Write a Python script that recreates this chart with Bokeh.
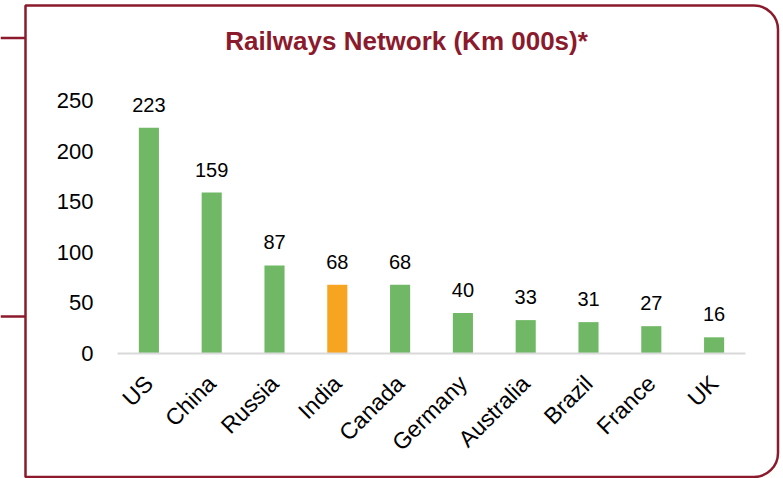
import math
from bokeh.plotting import figure
from bokeh.models import ColumnDataSource, Range1d, FixedTicker, LabelSet, Label, BoxAnnotation
from bokeh.core.properties import value
from bokeh.embed import file_html
from bokeh.resources import INLINE

# ---- data ----
countries = ["US", "China", "Russia", "India", "Canada", "Germany", "Australia", "Brazil", "France", "UK"]
network_km000 = [223, 159, 87, 68, 68, 40, 33, 31, 27, 16]
highlight = "India"
y_ticks = [0, 50, 100, 150, 200, 250]
title_text = "Railways Network (Km 000s)*"

# ---- styles / layout ----
GREEN = "#71B866"
ORANGE = "#F7A520"
DARK_RED = "#8C1A2D"
FONT = "Liberation Sans"

W, H = 783, 478
PLOT_L, PLOT_R = 117, 745      # canvas x of the category band edges
ZERO_Y, TOP_Y = 353, 100       # canvas y of value 0 and value 250

n = len(countries)
px_per_cat = (PLOT_R - PLOT_L) / n
px_per_val = (ZERO_Y - TOP_Y) / y_ticks[-1]
x_start = -0.5 - PLOT_L / px_per_cat
x_end = x_start + W / px_per_cat
y_start = -(H - ZERO_Y) / px_per_val
y_end = ZERO_Y / px_per_val

xpos = list(range(n))
bar_colors = [ORANGE if c == highlight else GREEN for c in countries]
src = ColumnDataSource(dict(x=xpos, top=network_km000, color=bar_colors,
                            label=[str(v) for v in network_km000]))

p = figure(x_range=Range1d(x_start, x_end), y_range=Range1d(y_start, y_end),
           width=W, height=H, output_backend="svg", toolbar_location=None,
           min_border_left=0, min_border_right=0, min_border_top=0, min_border_bottom=0)
p.outline_line_color = None
p.xgrid.visible = False
p.ygrid.visible = False
p.background_fill_color = "white"
p.border_fill_color = "white"

p.vbar(x="x", top="top", width=0.32, color="color", line_color=None, source=src)

p.add_layout(LabelSet(x="x", y="top", text="label", source=src, y_offset=16,
                      text_align="center", text_baseline="alphabetic",
                      text_font=value(FONT), text_font_size=value("20px"), text_color="#000000"))

# y axis (drawn at the left edge of the first category band)
p.yaxis.fixed_location = -0.5
p.yaxis.ticker = FixedTicker(ticks=y_ticks)
p.yaxis.axis_line_color = None
p.yaxis.major_tick_line_color = None
p.yaxis.minor_tick_line_color = None
p.yaxis.major_tick_out = 0
p.yaxis.major_tick_in = 0
p.yaxis.major_label_standoff = 24
p.yaxis.major_label_text_font = FONT
p.yaxis.major_label_text_font_size = "22px"
p.yaxis.major_label_text_color = "#000000"

# x axis (category axis at value 0)
p.xaxis.fixed_location = 0
p.xaxis.bounds = (-0.5, n - 0.5)
p.xaxis.ticker = FixedTicker(ticks=xpos)
p.xaxis.major_label_overrides = {i: c for i, c in zip(xpos, countries)}
p.xaxis.axis_line_color = "#D9D9D9"
p.xaxis.axis_line_width = 2
p.xaxis.major_tick_line_color = None
p.xaxis.minor_tick_line_color = None
p.xaxis.major_tick_out = 0
p.xaxis.major_tick_in = 0
p.xaxis.major_label_orientation = math.pi / 4
p.xaxis.major_label_standoff = 26
p.xaxis.major_label_text_font = FONT
p.xaxis.major_label_text_font_size = "23px"
p.xaxis.major_label_text_color = "#000000"

# screen units: measured from the frame's bottom-left corner (frame = whole canvas), y upwards
def sy(y):
    return H - y

# title
p.add_layout(Label(x=406, y=sy(40), x_units="screen", y_units="screen", text=title_text,
                   text_align="center", text_baseline="middle", text_font=FONT,
                   text_font_style="bold", text_font_size="26px", text_color=DARK_RED))

# frame decoration
p.add_layout(BoxAnnotation(left=25, right=777.5, top=sy(5), bottom=sy(476.5),
                           left_units="screen", right_units="screen",
                           top_units="screen", bottom_units="screen",
                           fill_color=None, fill_alpha=0, line_color=DARK_RED, line_width=2.5, line_alpha=1,
                           border_radius=dict(top_left=0, top_right=24, bottom_right=24, bottom_left=0)))
for yy in (37.5, 316):
    p.add_layout(BoxAnnotation(left=0, right=25, top=sy(yy - 1.25), bottom=sy(yy + 1.25),
                               left_units="screen", right_units="screen",
                               top_units="screen", bottom_units="screen",
                               fill_color=DARK_RED, fill_alpha=1, line_color=None))

open("out.html", "w").write(file_html(p, INLINE))
